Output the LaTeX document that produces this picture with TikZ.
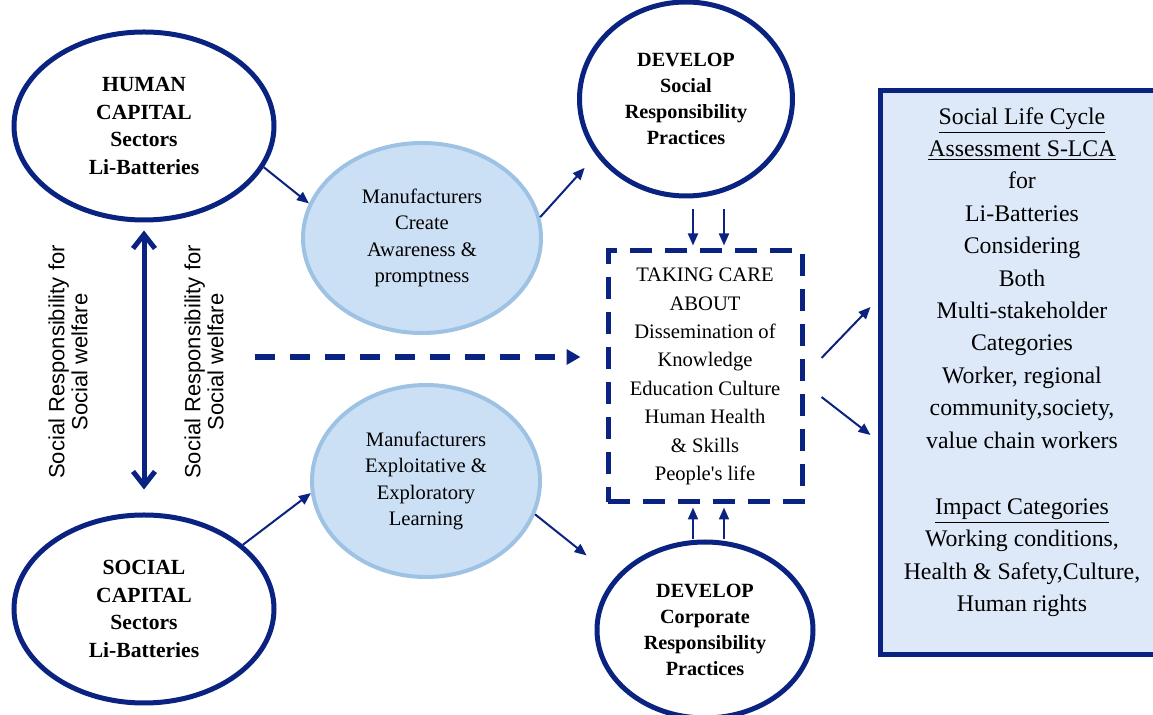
\documentclass[tikz,border=0pt]{standalone}
\usepackage{fontspec}
\setmainfont{Liberation Serif}[Ligatures=TeXOff]
\newfontfamily\welfarefont{Liberation Sans}
\usetikzlibrary{shapes.geometric,arrows.meta}

\definecolor{navy}{RGB}{10,34,128}
\definecolor{skyfill}{RGB}{204,224,245}
\definecolor{skyline}{RGB}{158,194,228}
\definecolor{slcafill}{RGB}{221,233,248}

\begin{document}
\begin{tikzpicture}[x=0.5pt,y=-0.5pt]
  \tikzstyle{capital}=[ellipse,draw=navy,line width=2.5pt,inner sep=0pt,align=center,
    minimum width=130pt,minimum height=94pt,font=\fontsize{10.8}{13.8}\selectfont\bfseries]
  \tikzstyle{maker}=[ellipse,draw=skyline,fill=skyfill,line width=2pt,inner sep=0pt,align=center,
    font=\fontsize{10.3}{13.3}\selectfont]
  \tikzstyle{develop}=[ellipse,draw=navy,line width=2.5pt,inner sep=0pt,align=center,
    font=\fontsize{10.1}{13}\selectfont\bfseries]
  \tikzstyle{link}=[navy,line width=1pt,-{Triangle[length=6pt,width=5pt]}]
  \useasboundingbox (0,0) rectangle (1153,715);

  % capitals
  \node[capital] (human) at (144,126) {HUMAN\\CAPITAL\\Sectors\\Li-Batteries};
  \node[capital] (social) at (144,609) {SOCIAL\\CAPITAL\\Sectors\\Li-Batteries};

  \node[rotate=90,align=center,font=\welfarefont\fontsize{11}{11.5}\selectfont] (welfarea) at (68,362)
    {Social Responsibility for\\Social welfare};
  \node[rotate=90,align=center,font=\welfarefont\fontsize{11}{11.5}\selectfont] (welfareb) at (204,362)
    {Social Responsibility for\\Social welfare};

  % manufacturers
  \node[maker,minimum width=119pt,minimum height=95pt] (mcreate) at (422,238)
    {Manufacturers\\Create\\Awareness \&\\promptness};
  \node[maker,minimum width=114pt,minimum height=96pt] (mexpl) at (426,481)
    {Manufacturers\\Exploitative \&\\Exploratory\\Learning};

  % develop
  \node[develop,minimum width=106.5pt,minimum height=97pt] (devsoc) at (686,99)
    {DEVELOP\\Social\\Responsibility\\Practices};
  \node[develop,minimum width=108pt,minimum height=88pt] (devcorp) at (705,630)
    {DEVELOP\\Corporate\\Responsibility\\Practices};

  \node[draw=navy,line width=2.5pt,dash pattern=on 11pt off 6.5pt,minimum width=97pt,
    minimum height=125.5pt,inner sep=0pt,align=center,font=\fontsize{10.3}{14.2}\selectfont] (care) at (705,376.5)
    {TAKING CARE\\ABOUT\\Dissemination of\\Knowledge\\Education Culture\\Human Health\\\& Skills\\People's life};

  % S-LCA
  \node[draw=navy,fill=slcafill,line width=2.5pt,minimum width=170pt,minimum height=282pt] (slca) at (1050,373) {};
  \node[align=center,font=\fontsize{11.9}{16.2}\selectfont] (slcatext) at (1022,362)
    {\underline{Social Life Cycle}\\\underline{Assessment S-LCA}\\for\\Li-Batteries\\Considering\\Both\\
     Multi-stakeholder\\Categories\\Worker, regional\\community,society,\\value chain workers\\[17pt]
     \underline{Impact Categories}\\Working conditions,\\Health \& Safety,Culture,\\Human rights};

  % edges
  \draw[navy,line width=2.5pt,{Straight Barb[length=7pt,width=11pt]}-{Straight Barb[length=7pt,width=11pt]},
    shorten <=4pt,shorten >=11.5pt] (human.south) -- (social.north);
  \draw[link] (human.-19) -- (mcreate.163);
  \draw[link] (social.33) -- (mexpl.186);
  \draw[link,shorten >=8.5pt] (mcreate.10) -- (devsoc.212);
  \draw[link,shorten >=18pt] (mexpl.-17) -- (devcorp.150);

  \draw[link,shorten <=5.5pt,shorten >=1.5pt] ([xshift=3.5pt]devsoc.south) -- ([xshift=-6pt]care.north);
  \draw[link,shorten <=5.5pt,shorten >=1.5pt] ([xshift=19pt]devsoc.south) -- ([xshift=9.5pt]care.north);
  \draw[link,shorten >=1.5pt] ([xshift=-6pt]devcorp.north) -- ([xshift=-6pt]care.south);
  \draw[link,shorten >=1.5pt] ([xshift=9.5pt]devcorp.north) -- ([xshift=9.5pt]care.south);

  \coordinate (dstart) at (255,357);
  \draw[navy,line width=3.3pt,dash pattern=on 10pt off 7.5pt,-{Triangle[length=7pt,width=7.5pt]},
    shorten >=12.5pt] (dstart) -- (dstart -| care.west);

  \draw[link] ([xshift=8.5pt,yshift=9.25pt]care.east) -- ([xshift=-3.5pt,yshift=33pt]slca.west);
  \draw[link] ([xshift=8.5pt,yshift=-10.25pt]care.east) -- ([xshift=-3.5pt,yshift=-31pt]slca.west);

\end{tikzpicture}
\end{document}
